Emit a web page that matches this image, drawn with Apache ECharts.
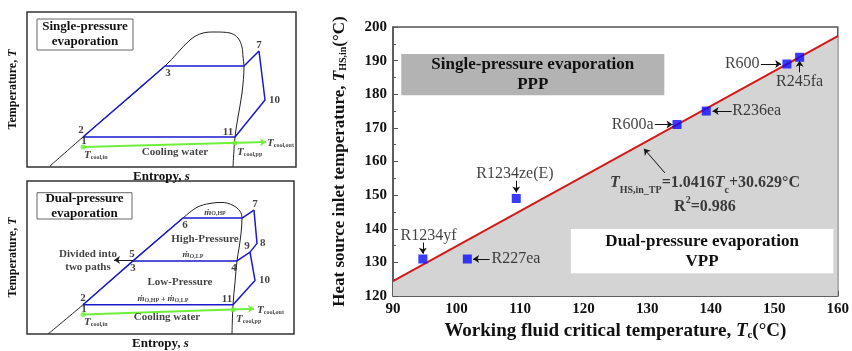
<!DOCTYPE html>
<html>
<head>
<meta charset="utf-8">
<script src="https://cdn.jsdelivr.net/npm/echarts@6/dist/echarts.min.js"></script>
<style>
  html, body { margin: 0; padding: 0; background: #fff; }
  #chart { width: 852px; height: 351px; }
</style>
</head>
<body>
<div id="chart"></div>
<script>
// ---- right panel: working fluids ----
const fluidNames = ['R1234yf', 'R227ea', 'R1234ze(E)', 'R600a', 'R236ea', 'R600', 'R245fa'];
const criticalTemp = [94.7, 101.7, 109.4, 134.7, 139.3, 152.0, 154.0];
const hsInletTemp = [131, 131, 149, 171, 175, 189, 191];
const fitLine = [[90, 124.4], [160, 197.3]];
// label anchor [Tc, T] and alignment for each fluid
const fluidLabelAt = [[95.6, 137.8], [105.5, 131], [109.2, 156.2], [131.0, 171], [143.4, 175], [147.7, 189], [154.0, 183.6]];
const fluidLabelAlign = ['center', 'left', 'center', 'right', 'left', 'right', 'center'];
const fluidArrows = [
  [[94.7, 135.9], [94.7, 132.6]],
  [[105.2, 131], [102.6, 131]],
  [[109.4, 154.3], [109.4, 150.8]],
  [[131.2, 171], [134.0, 171]],
  [[143.3, 175], [140.3, 175]],
  [[147.9, 189], [151.1, 189]],
  [[154.0, 186.5], [154.0, 190.0]]
];
const fitArrow = [[132.8, 156.6], [129.5, 163.8]];
const fitTextAt = [139.1, 150.0];
const pppBox = [[91.3, 192.0], [132.7, 179.7]];
const vppBox = [[118.0, 139.9], [159.3, 126.8]];

// ---- left panels: schematic T-s diagrams (arbitrary s, T units) ----
const spDome = [[23,1],[56,30],[138,101],[163,127],[176,134],[188,135],[203,134],[211,129],[215,120],[216,110],[217,101],[215,74],[211,50],[208,30],[206,0]];
const spCycle = [[56,30],[138,101],[217,101],[232,116],[238,67],[208,30],[56,30]];
const spCoolDots = [[56,20],[208,24]];
const spCoolArrow = [[56,20],[239,25]];
const spBox = [[10, 148], [106, 117]];
const spTags = [
  [54,37,'2'],[57,26,'1'],[141,94,'3'],[232,122,'7'],[242,67,'10','left'],[201,35,'11'],
  [148,15,'Cooling water'],[57,13,'{i|T}{s|cool,in}','left'],[210,16,'{i|T}{s|cool,pp}','left'],[240,25,'{i|T}{s|cool,out}','left']
];

const dpDome = [[21,0],[56,30],[106,75],[156,119],[170,130],[183,134],[195,135],[206,132],[213,126],[215,119],[214,103],[212,88],[210,75],[208,53],[206,30],[205,0]];
const dpCycle = [[56,30],[106,75],[156,119],[215,119],[227,127],[230,93],[223,84],[228,55],[206,30],[56,30]];
const dpLowPath = [[106,75],[210,75],[223,84]];
const dpCoolDots = [[56,20],[206,25]];
const dpCoolArrow = [[56,20],[227,26]];
const dpSplitArrow = [[106,76],[87,76]];
const dpBox = [[10, 145], [105, 118]];
const dpTags = [
  [56,37,'2'],[57,26,'1'],[105,82,'5'],[106,68,'3'],[158,112,'6'],[228,133,'7'],[233,93,'8','left'],
  [220,90,'9'],[207,68,'4'],[232,55,'10','left'],[200,36,'11'],
  [188,126,'{m|ṁ}{s|O,HP}'],[178,97,'High-Pressure'],[166,82,'{m|ṁ}{s|O,LP}'],[153,53,'Low-Pressure'],
  [136,37,'{m|ṁ}{s|O,HP}{t| + }{m|ṁ}{s|O,LP}'],[140,17,'Cooling water'],
  [61,82,'Divided into'],[61,69,'two paths'],
  [57,13,'{i|T}{s|cool,in}','left'],[209,16,'{i|T}{s|cool,pp}','left'],[230,26,'{i|T}{s|cool,out}','left']
];

const serif = "'Liberation Serif'";
const chart = echarts.init(document.getElementById('chart'));

const leftRich = {
  i: { fontFamily: serif, fontStyle: 'italic', fontWeight: 'bold', fontSize: 11, lineHeight: 13, verticalAlign: 'bottom' },
  s: { fontFamily: serif, fontWeight: 'bold', fontSize: 6, lineHeight: 8, verticalAlign: 'bottom' },
  m: { fontFamily: serif, fontStyle: 'italic', fontSize: 9, lineHeight: 11, verticalAlign: 'bottom' },
  t: { fontFamily: serif, fontSize: 8, lineHeight: 11, verticalAlign: 'bottom' }
};

function hiddenAxis(gi, max, name, isY) {
  return {
    type: 'value', gridIndex: gi, min: 0, max: max,
    axisLine: { show: false }, axisTick: { show: false }, axisLabel: { show: false }, splitLine: { show: false },
    name: name, nameLocation: 'middle', nameGap: isY ? 8 : 3,
    nameTextStyle: { fontFamily: serif, fontWeight: 'bold', fontSize: isY ? 12 : 13, color: '#111',
      rich: { it: { fontFamily: serif, fontWeight: 'bold', fontStyle: 'italic', fontSize: isY ? 12 : 13 } } }
  };
}

function tagSeries(gi, tags) {
  return {
    type: 'scatter', xAxisIndex: gi, yAxisIndex: gi, symbolSize: 0, z: 8, silent: true,
    data: tags.map(t => ({ value: [t[0], t[1]], name: t[2], label: { align: t[3] || 'center' } })),
    label: { show: true, position: 'inside', formatter: p => p.name, fontFamily: serif, fontWeight: 'bold',
      fontSize: 11, color: '#111', rich: leftRich }
  };
}

function panelSeries(gi, dome, cycle, dots, arrow, box, boxText) {
  return [
    { type: 'line', xAxisIndex: gi, yAxisIndex: gi, data: dome, smooth: 0.35, showSymbol: false,
      lineStyle: { color: '#222', width: 1 }, z: 3, silent: true,
      markArea: { silent: true, z: 6, itemStyle: { color: '#fff', borderColor: '#666', borderWidth: 1 },
        label: { show: true, position: 'inside', fontFamily: serif, fontWeight: 'bold', fontSize: 13, color: '#111', lineHeight: 15 },
        data: [[{ coord: box[0], name: boxText }, { coord: box[1] }]] } },
    { type: 'line', xAxisIndex: gi, yAxisIndex: gi, data: cycle, showSymbol: false,
      lineStyle: { color: '#1a1acc', width: 1.5 }, z: 4, silent: true },
    { type: 'lines', coordinateSystem: 'cartesian2d', xAxisIndex: gi, yAxisIndex: gi, z: 5, silent: true,
      symbol: ['none', 'arrow'], symbolSize: 6,
      lineStyle: { color: '#6ef03a', width: 2, opacity: 1 }, data: [{ coords: arrow }] },
    { type: 'scatter', xAxisIndex: gi, yAxisIndex: gi, data: dots, symbolSize: 5, z: 6, silent: true,
      itemStyle: { color: '#6ef03a' } }
  ];
}

const series = [];
series.push(...panelSeries(0, spDome, spCycle, spCoolDots, spCoolArrow, spBox, 'Single-pressure\nevaporation'));
series.push(tagSeries(0, spTags));
series.push(...panelSeries(1, dpDome, dpCycle, dpCoolDots, dpCoolArrow, dpBox, 'Dual-pressure\nevaporation'));
series.push({ type: 'line', xAxisIndex: 1, yAxisIndex: 1, data: dpLowPath, showSymbol: false,
  lineStyle: { color: '#1a1acc', width: 1.5 }, z: 4, silent: true });
series.push({ type: 'lines', coordinateSystem: 'cartesian2d', xAxisIndex: 1, yAxisIndex: 1, z: 5, silent: true,
  symbol: ['none', 'arrow'], symbolSize: 6, lineStyle: { color: '#222', width: 1, opacity: 1 },
  data: [{ coords: dpSplitArrow }] });
series.push(tagSeries(1, dpTags));

// right chart
series.push({
  type: 'line', xAxisIndex: 2, yAxisIndex: 2, data: fitLine, showSymbol: false, z: 2, silent: true,
  lineStyle: { color: '#d11a1a', width: 2 },
  areaStyle: { color: '#d4d4d4', opacity: 1, origin: 'start' }
});
series.push({
  type: 'scatter', xAxisIndex: 2, yAxisIndex: 2, data: [], z: 3, silent: true,
  markArea: {
    silent: true, z: 4,
    label: { show: true, position: 'inside', fontFamily: serif, fontWeight: 'bold', fontSize: 17, color: '#111', lineHeight: 20 },
    data: [
      [{ coord: pppBox[0], name: 'Single-pressure evaporation\nPPP', itemStyle: { color: '#b3b3b3' } }, { coord: pppBox[1] }],
      [{ coord: vppBox[0], name: 'Dual-pressure evaporation\nVPP', itemStyle: { color: '#ffffff' } }, { coord: vppBox[1] }]
    ]
  }
});
series.push({
  type: 'lines', coordinateSystem: 'cartesian2d', xAxisIndex: 2, yAxisIndex: 2, z: 6, silent: true,
  symbol: ['none', 'arrow'], symbolSize: 6, lineStyle: { color: '#111', width: 1, opacity: 1 },
  data: fluidArrows.concat([fitArrow]).map(c => ({ coords: c }))
});
series.push({
  type: 'scatter', xAxisIndex: 2, yAxisIndex: 2, symbol: 'rect', symbolSize: 9, z: 7, silent: true,
  itemStyle: { color: '#0a0aff' },
  data: criticalTemp.map((t, i) => [t, hsInletTemp[i]])
});
series.push({
  type: 'scatter', xAxisIndex: 2, yAxisIndex: 2, symbolSize: 0, z: 8, silent: true,
  data: fluidNames.map((n, i) => ({ value: fluidLabelAt[i], name: n, label: { align: fluidLabelAlign[i] } })),
  label: { show: true, position: 'inside', formatter: p => p.name, fontFamily: serif, fontSize: 16, color: '#111' }
});
series.push({
  type: 'scatter', xAxisIndex: 2, yAxisIndex: 2, symbolSize: 0, z: 8, silent: true,
  data: [{ value: fitTextAt, name: 'fit' }],
  label: {
    show: true, position: 'inside', align: 'center', color: '#111',
    formatter: '{i|T}{sub|HS,in_TP}{b|=1.0416}{i|T}{sub|c}{b|+30.629°C}\n{b|R}{sup|2}{b|=0.986}',
    rich: {
      i: { fontFamily: serif, fontWeight: 'bold', fontStyle: 'italic', fontSize: 16, lineHeight: 24, verticalAlign: 'middle' },
      b: { fontFamily: serif, fontWeight: 'bold', fontSize: 16, lineHeight: 24, verticalAlign: 'middle' },
      sub: { fontFamily: serif, fontWeight: 'bold', fontSize: 10, lineHeight: 14, verticalAlign: 'bottom' },
      sup: { fontFamily: serif, fontWeight: 'bold', fontSize: 10, lineHeight: 16, verticalAlign: 'top' }
    }
  }
});

const tickLabel = { fontFamily: serif, fontWeight: 'bold', fontSize: 15, color: '#111' };
const axisName = { fontFamily: serif, fontWeight: 'bold', fontSize: 19, color: '#111',
  rich: {
    it: { fontFamily: serif, fontWeight: 'bold', fontStyle: 'italic', fontSize: 19 },
    sub: { fontFamily: serif, fontWeight: 'bold', fontSize: 11, verticalAlign: 'bottom', lineHeight: 14 }
  } };
const yAxisName = { fontFamily: serif, fontWeight: 'bold', fontSize: 17, color: '#111',
  rich: {
    it: { fontFamily: serif, fontWeight: 'bold', fontStyle: 'italic', fontSize: 17 },
    sub: { fontFamily: serif, fontWeight: 'bold', fontSize: 10, verticalAlign: 'bottom', lineHeight: 14 }
  } };

chart.setOption({
  animation: false,
  backgroundColor: '#fff',
  grid: [
    { left: 27, top: 12, width: 269, height: 155, show: true, borderColor: '#333', borderWidth: 1.5 },
    { left: 27, top: 181, width: 267, height: 157, show: true, borderColor: '#333', borderWidth: 1.5 },
    { left: 393, right: 12, top: 27, bottom: 55, show: true, borderColor: '#555', borderWidth: 1.5 }
  ],
  xAxis: [
    hiddenAxis(0, 269, 'Entropy, {it|s}', false),
    hiddenAxis(1, 267, 'Entropy, {it|s}', false),
    {
      type: 'value', gridIndex: 2, min: 90, max: 160, interval: 10,
      axisLine: { lineStyle: { color: '#555', width: 1.5 } },
      axisTick: { inside: true, length: 5, lineStyle: { color: '#555' } },
      minorTick: { show: true, splitNumber: 2, length: 3, lineStyle: { color: '#555' } },
      axisLabel: Object.assign({ margin: 6 }, tickLabel),
      splitLine: { show: false },
      name: 'Working fluid critical temperature, {it|T}{sub|c}(°C)', nameLocation: 'middle', nameGap: 21,
      nameTextStyle: axisName
    }
  ],
  yAxis: [
    hiddenAxis(0, 155, 'Temperature, {it|T}', true),
    hiddenAxis(1, 157, 'Temperature, {it|T}', true),
    {
      type: 'value', gridIndex: 2, min: 120, max: 200, interval: 10,
      axisLine: { lineStyle: { color: '#555', width: 1.5 } },
      axisTick: { inside: true, length: 5, lineStyle: { color: '#555' } },
      minorTick: { show: true, splitNumber: 2, length: 3, lineStyle: { color: '#555' } },
      axisLabel: Object.assign({ margin: 6 }, tickLabel),
      splitLine: { show: false },
      name: 'Heat source inlet temperature, {it|T}{sub|HS,in}(°C)', nameLocation: 'middle', nameGap: 45,
      nameTextStyle: yAxisName
    }
  ],
  series: series
});
</script>
</body>
</html>
